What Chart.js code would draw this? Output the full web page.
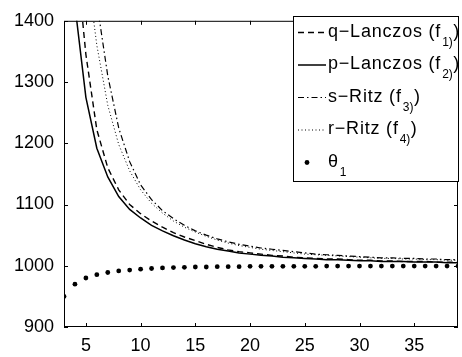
<!DOCTYPE html>
<html>
<head>
<meta charset="utf-8">
<script src="https://cdn.jsdelivr.net/npm/chart.js@4.4.1/dist/chart.umd.min.js"></script>
<style>
  html, body { margin: 0; padding: 0; background: #fff; }
  #wrap { width: 462px; height: 357px; }
</style>
</head>
<body>
<div id="wrap"><canvas id="chart" width="462" height="357"></canvas></div>
<script>
// iteration number k = 3..39
const xs = [3, 4, 5, 6, 7, 8, 9, 10, 11, 12, 13, 14, 15, 16, 17, 18, 19, 20, 21,
  22, 23, 24, 25, 26, 27, 28, 29, 30, 31, 32, 33, 34, 35, 36, 37, 38, 39];

const qLanczos = [null, 1528, 1345, 1222, 1160, 1124, 1100, 1085, 1073, 1063, 1054, 1047, 1041,
  1035, 1030, 1026, 1023, 1021, 1019, 1017, 1016, 1014, 1013, 1012, 1011, 1011, 1010, 1009,
  1009, 1008, 1008, 1007, 1007, 1007, 1006, 1006, 1006];
const pLanczos = [null, 1425, 1275, 1192, 1145, 1113, 1092, 1078, 1066, 1057, 1049, 1042, 1036,
  1031, 1027, 1024, 1021, 1019, 1017, 1016, 1014, 1013, 1012, 1011, 1010, 1010, 1009, 1008,
  1008, 1007, 1007, 1007, 1006, 1006, 1006, 1005, 1005];
const sRitz = [null, null, null, 1430, 1310, 1225, 1170, 1132, 1108, 1090, 1077, 1066, 1057,
  1050, 1044, 1039, 1035, 1032, 1029, 1027, 1025, 1023, 1021, 1019, 1018, 1017, 1016, 1015,
  1014, 1013, 1013, 1012, 1012, 1011, 1011, 1010, 1010];
const rRitz = [null, null, 1500, 1360, 1262, 1198, 1155, 1124, 1102, 1086, 1073, 1063, 1055,
  1048, 1042, 1037, 1033, 1030, 1027, 1025, 1023, 1021, 1019, 1018, 1017, 1016, 1015, 1014,
  1013, 1012, 1012, 1011, 1011, 1010, 1010, 1009, 1009];
const theta1 = [950, 970, 980, 985.5, 989, 991.5, 993, 994.5, 995.5, 996.5, 997, 997.5, 998,
  998, 998.5, 998.5, 998.5, 999, 999, 999, 999, 999, 999, 999, 999.5, 999.5, 999.5, 999.5,
  999.5, 999.5, 999.5, 999.5, 999.5, 999.5, 999.5, 999.5, 999.5];

const xTicks = [5, 10, 15, 20, 25, 30, 35];
const yTicks = [900, 1000, 1100, 1200, 1300, 1400];
const labels = ["q\u2212Lanczos (f_1)", "p\u2212Lanczos (f_2)", "s\u2212Ritz (f_3)", "r\u2212Ritz (f_4)", "\u03b8_1"];

const FONT = '"Liberation Sans", Arial, Helvetica, sans-serif';
const pts = (vals) => xs.map((x, i) => ({ x, y: vals[i] }));

const styles = [
  { dash: [6, 4], w: 1.4 },
  { dash: [], w: 1.5 },
  { dash: [6, 3, 1.5, 3], w: 1.2 },
  { dash: [1, 2.5], w: 1 },
];

// draws "main_sub" with a lowered small subscript, then the closing paren
function drawLabel(ctx, str, x, y) {
  const [main, sub] = str.split("_");
  ctx.letterSpacing = "0.8px";
  ctx.font = `18px ${FONT}`;
  ctx.fillText(main, x, y);
  let cx = x + ctx.measureText(main).width + 1;
  if (!sub) return;
  ctx.letterSpacing = "0px";
  ctx.font = `12px ${FONT}`;
  ctx.fillText(sub, cx, y + 9);
  cx += ctx.measureText(sub).width + 0.5;
  if (main.includes("(")) {
    ctx.font = `18px ${FONT}`;
    ctx.fillText(")", cx, y);
  }
}

const frame = {
  id: "frame",
  afterDraw(chart) {
    const { ctx, chartArea: a, scales } = chart;
    ctx.save();
    ctx.strokeStyle = "#000";
    ctx.lineWidth = 1;
    ctx.setLineDash([]);
    ctx.strokeRect(a.left + 0.5, a.top + 0.5, a.right - a.left - 1, a.bottom - a.top - 1);
    ctx.beginPath();
    xTicks.forEach((v) => {
      const px = Math.round(scales.x.getPixelForValue(v)) + 0.5;
      ctx.moveTo(px, a.bottom); ctx.lineTo(px, a.bottom - 4);
      ctx.moveTo(px, a.top); ctx.lineTo(px, a.top + 4);
    });
    yTicks.forEach((v) => {
      const py = Math.round(scales.y.getPixelForValue(v)) + 0.5;
      ctx.moveTo(a.left, py); ctx.lineTo(a.left + 4, py);
      ctx.moveTo(a.right, py); ctx.lineTo(a.right - 4, py);
    });
    ctx.stroke();

    // legend box
    const bx = 293, by = 16, bw = 166, bh = 166;
    ctx.fillStyle = "#fff";
    ctx.fillRect(bx, by, bw, bh);
    ctx.strokeRect(bx + 0.5, by + 0.5, bw - 1, bh - 1);
    ctx.fillStyle = "#000";
    ctx.textBaseline = "alphabetic";
    labels.forEach((lab, i) => {
      const base = 36.5 + i * 32.5;
      const ly = base - 4;
      if (i < 4) {
        ctx.setLineDash(styles[i].dash);
        ctx.lineWidth = styles[i].w;
        ctx.beginPath();
        ctx.moveTo(298, ly); ctx.lineTo(326, ly);
        ctx.stroke();
        ctx.setLineDash([]);
      } else {
        ctx.beginPath();
        ctx.arc(307, ly, 2.4, 0, Math.PI * 2);
        ctx.fill();
      }
      drawLabel(ctx, lab, 328, base);
    });
    ctx.restore();
  },
};

const lineSet = (label, vals, st) => ({
  label, data: pts(vals), borderColor: "#000", borderWidth: st.w, borderDash: st.dash,
  pointRadius: 0, fill: false, tension: 0,
});

new Chart(document.getElementById("chart"), {
  type: "line",
  data: {
    datasets: [
      { label: labels[4], data: pts(theta1), showLine: false, pointRadius: 2.4,
        pointBackgroundColor: "#000", pointBorderWidth: 0 },
      lineSet(labels[0], qLanczos, styles[0]),
      lineSet(labels[1], pLanczos, styles[1]),
      lineSet(labels[2], sRitz, styles[2]),
      lineSet(labels[3], rRitz, styles[3]),
    ],
  },
  options: {
    responsive: false,
    animation: false,
    devicePixelRatio: 1,
    layout: { padding: { top: 13, right: 1, left: 0, bottom: 0 } },
    plugins: { legend: { display: false }, tooltip: { enabled: false } },
    scales: {
      x: {
        type: "linear", min: 3, max: 39,
        grid: { display: false, drawTicks: false },
        border: { display: false },
        ticks: { color: "#000", font: { family: FONT, size: 18 }, padding: 8, maxRotation: 0,
          callback: (v) => String(v) },
        afterBuildTicks: (s) => { s.ticks = xTicks.map((v) => ({ value: v })); },
        afterFit: (s) => { s.height = 30; },
      },
      y: {
        min: 900, max: 1400,
        grid: { display: false, drawTicks: false },
        border: { display: false },
        ticks: { color: "#000", font: { family: FONT, size: 18 }, padding: 10,
          callback: (v) => String(v) },
        afterBuildTicks: (s) => { s.ticks = yTicks.map((v) => ({ value: v })); },
        afterFit: (s) => { s.width = 64; },
      },
    },
  },
  plugins: [frame],
});
</script>
</body>
</html>
